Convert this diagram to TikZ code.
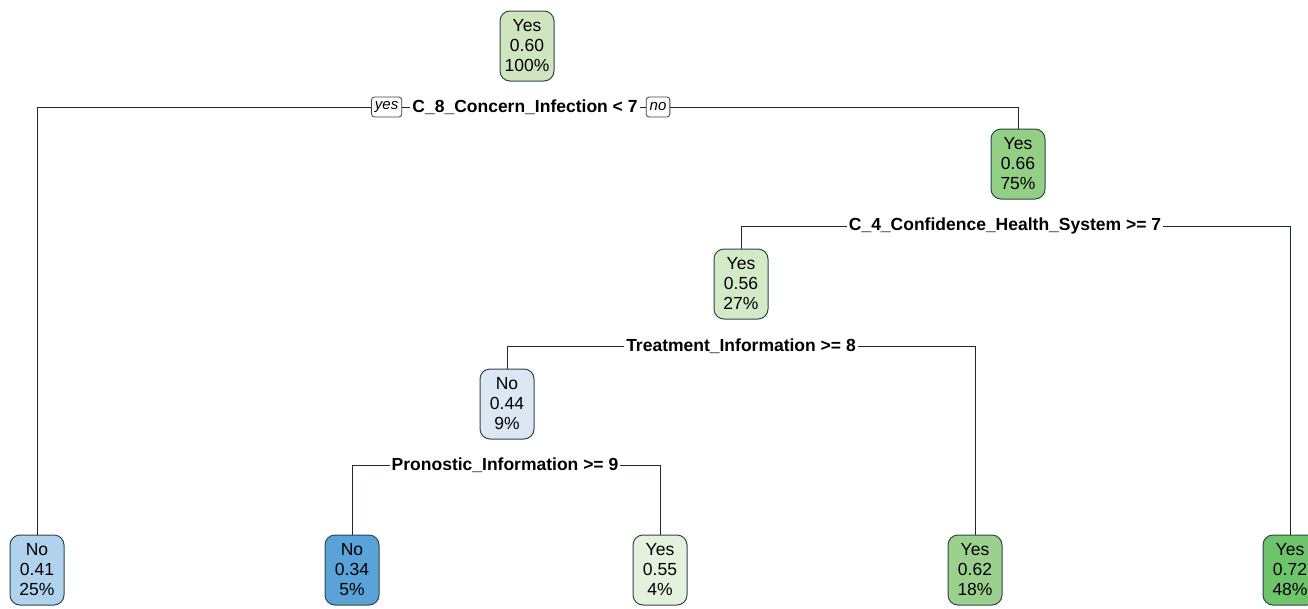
\documentclass[tikz,border=0pt]{standalone}
\usepackage{fontspec}
\setmainfont{Liberation Sans}
\usepackage{xcolor}
\usetikzlibrary{positioning}
\definecolor{edgecol}{HTML}{2B4747}
\definecolor{linecol}{HTML}{1F2A30}
\definecolor{gRoot}{HTML}{CFE5C0}
\definecolor{gMid}{HTML}{93CF84}
\definecolor{gLight}{HTML}{D3EAC8}
\definecolor{gPale}{HTML}{E4F1DC}
\definecolor{gLeaf}{HTML}{9CD08F}
\definecolor{gDark}{HTML}{6DC46B}
\definecolor{bPale}{HTML}{DBE8F4}
\definecolor{bLight}{HTML}{B0D2EC}
\definecolor{bDark}{HTML}{5AA3D8}

\begin{document}
\begin{tikzpicture}[x=1pt,y=-1pt,
  treenode/.style={draw=edgecol,line width=1pt,rounded corners=10pt,align=center,
    minimum width=54pt,minimum height=70pt,inner xsep=4pt,inner ysep=2pt,
    font=\fontsize{17.5}{20}\selectfont},
  splitlab/.style={fill=white,inner xsep=2pt,inner ysep=1pt,
    font=\bfseries\fontsize{17.5}{20}\selectfont},
  yesno/.style={draw=edgecol,line width=0.8pt,rounded corners=3pt,fill=white,
    inner xsep=3.5pt,inner ysep=2pt,minimum height=20pt,
    font=\itshape\fontsize{15}{17}\selectfont},
  branch/.style={line width=1pt,draw=linecol}]
\useasboundingbox (0,0) rectangle (1308,608);
%%the inner nodes
\node[treenode,fill=gRoot] (root) at (527,46) {Yes\\0.60\\100\%};
\node[treenode,fill=gMid] (n75) at (1018,164) {Yes\\0.66\\75\%};
\node[treenode,fill=gLight] (n27) at (741,284) {Yes\\0.56\\27\%};
\node[treenode,fill=bPale] (n9) at (507,404) {No\\0.44\\9\%};
%%the leaves
\node[treenode,fill=bLight] (l25) at (37,570) {No\\0.41\\25\%};
\node[treenode,fill=bDark] (l5) at (352,570) {No\\0.34\\5\%};
\node[treenode,fill=gPale] (l4) at (660,570) {Yes\\0.55\\4\%};
\node[treenode,fill=gLeaf] (l18) at (975,570) {Yes\\0.62\\18\%};
\node[treenode,fill=gDark] (l48) at (1290,570) {Yes\\0.72\\48\%};
%%the split labels
\node[splitlab] (s1) at (525,107) {C\_8\_Concern\_Infection < 7};
\node[yesno,left=8pt of s1] (yes) {yes};
\node[yesno,right=6pt of s1] (no) {no};
\node[splitlab] (s2) at (1005,226) {C\_4\_Confidence\_Health\_System >= 7};
\node[splitlab] (s3) at (741,346) {Treatment\_Information >= 8};
\node[splitlab] (s4) at (505,465) {Pronostic\_Information >= 9};
%%now the branches
\draw[branch] (s1.west) -- (yes.east);
\draw[branch] (yes.west) -| (l25.north);
\draw[branch] (s1.east) -- (no.west);
\draw[branch] (no.east) -| (n75.north);
\draw[branch] (s2.west) -| (n27.north);
\draw[branch] (s2.east) -| (l48.north);
\draw[branch] (s3.west) -| (n9.north);
\draw[branch] (s3.east) -| (l18.north);
\draw[branch] (s4.west) -| (l5.north);
\draw[branch] (s4.east) -| (l4.north);
\end{tikzpicture}
\end{document}
